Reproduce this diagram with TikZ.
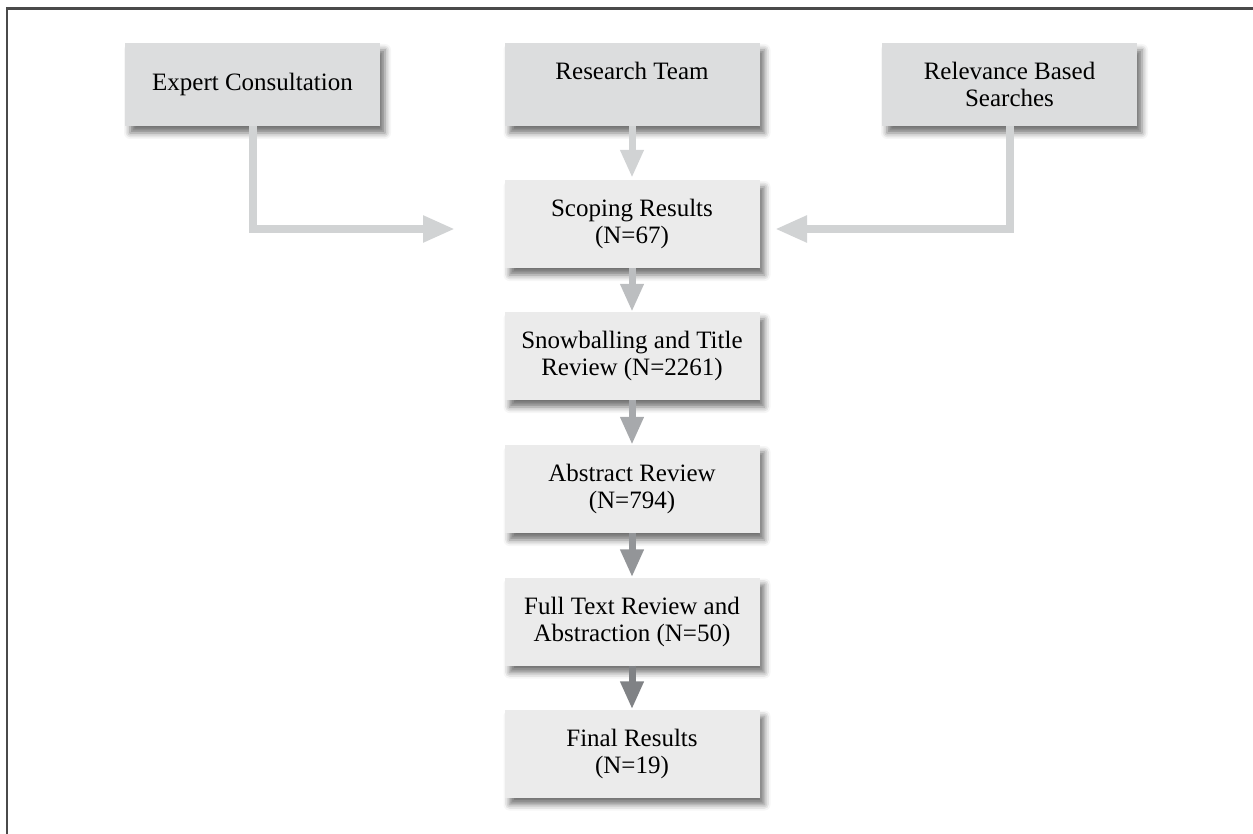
\documentclass[tikz,border=0pt]{standalone}
\usepackage{fontspec}
\setmainfont{Liberation Serif}
\usetikzlibrary{arrows.meta,shadows.blur}
\definecolor{topfill}{HTML}{DCDDDE}
\definecolor{midfill}{HTML}{EBEBEB}
\definecolor{arA}{HTML}{D1D3D4}
\definecolor{arB}{HTML}{BCBEC0}
\definecolor{arC}{HTML}{A7A9AC}
\definecolor{arD}{HTML}{939598}
\definecolor{arE}{HTML}{808285}
\definecolor{framecol}{HTML}{4A4A4A}
\tikzset{
  box/.style={rectangle, minimum width=255pt, inner sep=0pt, align=center,
    font=\fontsize{25}{27}\selectfont,
    blur shadow={shadow xshift=5pt, shadow yshift=-7pt, shadow blur radius=6pt, shadow opacity=55}},
  topbox/.style={box, fill=topfill, minimum height=83pt},
  midbox/.style={box, fill=midfill, minimum height=88pt},
  conn/.style={line width=8pt, -{Triangle[width=25pt,length=32pt]}},
  vconn/.style={line width=7pt, -{Triangle[width=22pt,length=28pt]}}
}
\begin{document}
\begin{tikzpicture}[x=1pt,y=-1pt]
\useasboundingbox (0,0) rectangle (1253,834);
\draw[framecol, line width=2.5pt] (1253,8.5) -- (7,8.5) -- (7,834);

\node[topbox] (ec) at (252.5,84.5) {Expert Consultation};
\node[topbox] (rt) at (632,84.5) {Research Team\\\mbox{}};
\node[topbox] (rb) at (1009.5,84.5) {Relevance Based\\Searches};

\node[midbox] (sr) at (632,224) {Scoping Results\\(N=67)};
\node[midbox] (sn) at (632,356) {Snowballing and Title\\Review (N=2261)};
\node[midbox] (ar) at (632,489) {Abstract Review\\(N=794)};
\node[midbox] (ft) at (632,621.5) {Full Text Review and\\Abstraction (N=50)};
\node[midbox] (fr) at (632,753.5) {Final Results\\(N=19)};

\coordinate (ecend) at (455,229);
\coordinate (rbend) at (775,229);

\draw[conn, arA, line cap=butt] (ec.south) |- (ecend);
\draw[conn, arA] (rb.south) |- (rbend);
\draw[vconn, arA, shorten >=2pt] (rt.south) -- (sr.north);
\draw[vconn, arB] (sr.south) -- (sn.north);
\draw[vconn, arC] (sn.south) -- (ar.north);
\draw[vconn, arD] (ar.south) -- (ft.north);
\draw[vconn, arE] (ft.south) -- (fr.north);
\end{tikzpicture}
\end{document}
